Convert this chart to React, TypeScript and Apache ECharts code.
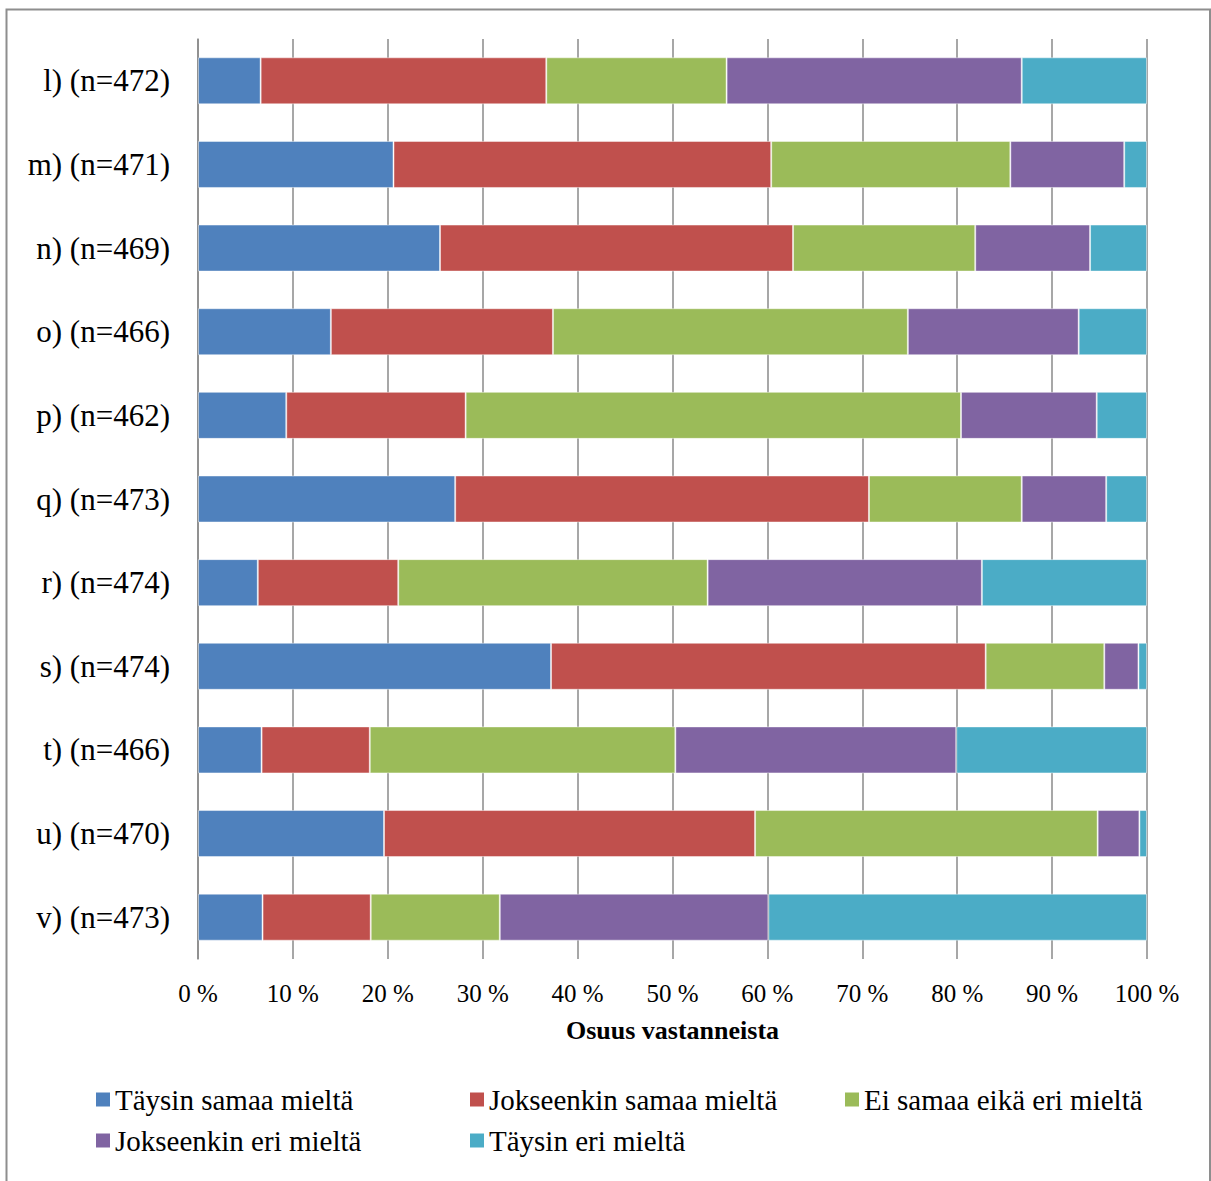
import React, { useEffect, useRef } from "react";
import * as echarts from "echarts";

const categories = [
  "l) (n=472)",
  "m) (n=471)",
  "n) (n=469)",
  "o) (n=466)",
  "p) (n=462)",
  "q) (n=473)",
  "r) (n=474)",
  "s) (n=474)",
  "t) (n=466)",
  "u) (n=470)",
  "v) (n=473)",
];

const seriesNames = [
  "Täysin samaa mieltä",
  "Jokseenkin samaa mieltä",
  "Ei samaa eikä eri mieltä",
  "Jokseenkin eri mieltä",
  "Täysin eri mieltä",
];

const taysinSamaa = [6.6, 20.6, 25.5, 14.0, 9.3, 27.1, 6.3, 37.2, 6.7, 19.6, 6.8];
const jokseenkinSamaa = [30.1, 39.8, 37.2, 23.4, 18.9, 43.6, 14.8, 45.8, 11.4, 39.1, 11.4];
const eiSamaaEikaEri = [19.0, 25.2, 19.2, 37.4, 52.2, 16.1, 32.6, 12.5, 32.2, 36.1, 13.6];
const jokseenkinEri = [31.1, 12.0, 12.1, 18.0, 14.3, 8.9, 28.9, 3.6, 29.6, 4.4, 28.3];
const taysinEri = [13.2, 2.4, 6.0, 7.2, 5.3, 4.3, 17.4, 0.9, 20.1, 0.8, 39.9];

const xTicks = [0, 10, 20, 30, 40, 50, 60, 70, 80, 90, 100];

const colors = ["#4F81BD", "#C0504D", "#9BBB59", "#8064A2", "#4BACC6"];
const FONT = "'Liberation Serif', 'Times New Roman', serif";

export default function App() {
  const ref = useRef<HTMLDivElement>(null);

  useEffect(() => {
    if (!ref.current) return;
    const chart = echarts.init(ref.current, undefined, { renderer: "svg" });
    const values = [taysinSamaa, jokseenkinSamaa, eiSamaaEikaEri, jokseenkinEri, taysinEri];
    const legendPos = [
      { left: 96, top: 1085 },
      { left: 470, top: 1085 },
      { left: 845, top: 1085 },
      { left: 96, top: 1126 },
      { left: 470, top: 1126 },
    ];
    const option: any = {
      animation: false,
      backgroundColor: "#ffffff",
      color: colors,
      textStyle: { fontFamily: FONT, color: "#000" },
      grid: { left: 198, right: 64, top: 39, bottom: 222, containLabel: false },
      xAxis: {
        type: "value",
        min: xTicks[0],
        max: xTicks[xTicks.length - 1],
        interval: 10,
        name: "Osuus vastanneista",
        nameLocation: "middle",
        nameGap: 58,
        nameTextStyle: { fontFamily: FONT, fontSize: 26, fontWeight: "bold", color: "#000" },
        axisLine: { show: false },
        axisTick: { show: false },
        axisLabel: {
          formatter: "{value} %",
          fontFamily: FONT,
          fontSize: 25,
          color: "#000",
          margin: 22,
        },
        splitLine: { show: true, lineStyle: { color: "#8a8a8a", width: 1.5 } },
      },
      yAxis: {
        type: "category",
        data: categories,
        inverse: true,
        axisLine: { show: true, lineStyle: { color: "#8a8a8a", width: 1.5 } },
        axisTick: { show: false },
        axisLabel: { fontFamily: FONT, fontSize: 31, color: "#000", margin: 28 },
        splitLine: { show: false },
      },
      legend: seriesNames.map((n, i) => ({
        data: [n],
        left: legendPos[i].left,
        top: legendPos[i].top,
        padding: 0,
        icon: "rect",
        itemWidth: 14,
        itemHeight: 14,
        itemGap: 0,
        selectedMode: false,
        itemStyle: { borderWidth: 0 },
        textStyle: { fontFamily: FONT, fontSize: 29, color: "#000", padding: [0, 0, 0, 0] },
      })),
      series: seriesNames.map((n, i) => ({
        name: n,
        type: "bar",
        stack: "total",
        barWidth: "56.2%",
        data: values[i],
        itemStyle: { color: colors[i], borderColor: "rgba(255,255,255,0.45)", borderWidth: 1 },
      })),
      graphic: [
        {
          type: "rect",
          shape: { x: 6.5, y: 9.5, width: 1203.5, height: 1200 },
          style: { fill: "none", stroke: "#8e8e8e", lineWidth: 2 },
          silent: true,
        },
      ],
    };
    chart.setOption(option);
    return () => chart.dispose();
  }, []);

  return (
    <div
      ref={ref}
      style={{ position: "absolute", left: 0, top: 0, width: 1211, height: 1181, background: "#fff" }}
    />
  );
}
